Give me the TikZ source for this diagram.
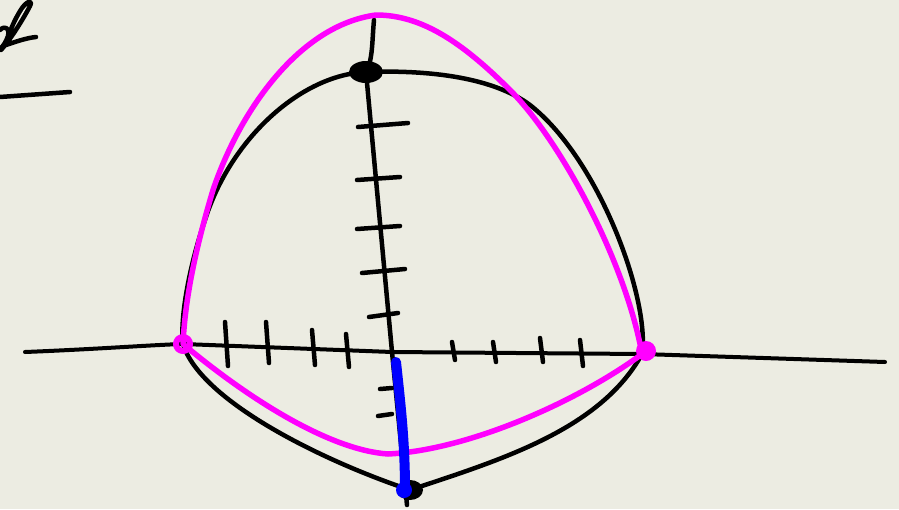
\documentclass[tikz,border=0pt]{standalone}
\begin{document}
\begin{tikzpicture}[x=1pt,y=-1pt,line cap=round,line join=round,
  ink/.style={draw=black,line width=4.5pt},
  tick/.style={draw=black,line width=4.5pt},
  pink/.style={draw=pinkink,line width=5.5pt},
  blu/.style={draw=blueink,line width=10pt}]
\definecolor{paper}{RGB}{236,236,226}
\definecolor{pinkink}{RGB}{255,0,255}
\definecolor{blueink}{RGB}{0,0,255}
\fill[paper] (0,0) rectangle (899,509);
\useasboundingbox (0,0) rectangle (899,509);
% handwriting top-left
\draw[ink] (0,30) .. controls (5,25) and (10,28) .. (8,36) .. controls (6,42) and (3,46) .. (1,48);
\draw[ink] (1,50) .. controls (12,38) and (26,14) .. (30,6) .. controls (33,0) and (28,0) .. (22,8) .. controls (14,20) and (8,35) .. (6,45) .. controls (15,42) and (26,38) .. (36,37);
\draw[ink] (0,97) -- (70,92);
% coordinates
\coordinate (L) at (183,344);
\coordinate (R) at (642,354);
\coordinate (T) at (366,72);
\coordinate (B) at (410,490);
\coordinate (O) at (392,352);
% axes
\draw[ink,line width=4pt] (25,352) .. controls (100,349) and (150,345) .. (L) -- (O) -- (R) -- (885,362);
\draw[ink] (374,20) .. controls (372,40) and (373,60) .. (T) -- (O) -- (407,505);
% ticks y
\draw[tick] (358,127) -- (408,123);
\draw[tick] (357,180) -- (400,177);
\draw[tick] (357,229) -- (400,226);
\draw[tick] (362,273) -- (405,269);
\draw[tick] (369,317) -- (398,313);
\draw[tick] (380,389) -- (392,388);
\draw[tick] (378,416) -- (392,414);
% ticks x
\foreach \x/\a/\b in {225/322/366,266/322/363,312/330/365,346/334/367,452/342/360,493/342/362,540/338/362,580/340/366}
  \draw[tick] (\x,\a) -- (\x+3,\b);
% black curve
\draw[ink] (T) .. controls (300,75) and (230,140) .. (205,220)
  .. controls (188,270) and (180,320) .. (L)
  .. controls (200,400) and (320,460) .. (B)
  .. controls (500,460) and (600,430) .. (R)
  .. controls (650,300) and (600,160) .. (530,105)
  .. controls (490,75) and (420,70) .. (T);
\fill (T) ellipse (17 and 11);
\fill (B) ellipse (13 and 10);
% magenta curve
\draw[pink] (376,15) .. controls (300,25) and (240,110) .. (213,190)
  .. controls (195,250) and (185,300) .. (L)
  .. controls (250,400) and (330,450) .. (388,454)
  .. controls (470,450) and (580,400) .. (R)
  .. controls (625,260) and (560,140) .. (510,90)
  .. controls (460,40) and (420,15) .. (376,15);
\draw[pinkink,line width=6pt] (L) circle (7);
\fill[pinkink] (646,351) circle (10);
% blue
\draw[blu] (396,362) .. controls (400,400) and (405,440) .. (405,490);
\fill[blueink] (404,490) circle (8);
\end{tikzpicture}
\end{document}
